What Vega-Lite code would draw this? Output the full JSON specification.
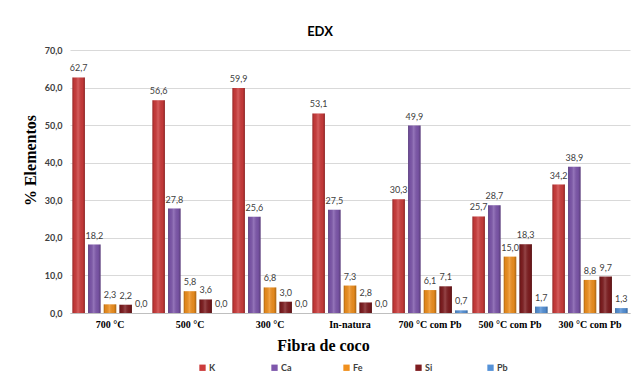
{
  "$schema": "https://vega.github.io/schema/vega-lite/v6.json",
  "width": 560,
  "height": 263,
  "autosize": {"type": "none"},
  "padding": {"left": 70, "top": 50, "right": 1, "bottom": 70},
  "background": "white",
  "title": {
    "text": "EDX",
    "font": "Lato",
    "fontSize": 13,
    "fontWeight": "bold",
    "color": "#000000",
    "anchor": "middle",
    "dx": -30,
    "offset": 7
  },
  "config": {
    "locale": {
      "number": {"decimal": ",", "thousands": ".", "grouping": [3], "currency": ["R$", ""]}
    },
    "view": {"stroke": null}
  },
  "data": {
    "values": [
      {"amostra": "700 °C", "elemento": "K", "pct": 62.7},
      {"amostra": "700 °C", "elemento": "Ca", "pct": 18.2},
      {"amostra": "700 °C", "elemento": "Fe", "pct": 2.3},
      {"amostra": "700 °C", "elemento": "Si", "pct": 2.2},
      {"amostra": "700 °C", "elemento": "Pb", "pct": 0.0},
      {"amostra": "500 °C", "elemento": "K", "pct": 56.6},
      {"amostra": "500 °C", "elemento": "Ca", "pct": 27.8},
      {"amostra": "500 °C", "elemento": "Fe", "pct": 5.8},
      {"amostra": "500 °C", "elemento": "Si", "pct": 3.6},
      {"amostra": "500 °C", "elemento": "Pb", "pct": 0.0},
      {"amostra": "300 °C", "elemento": "K", "pct": 59.9},
      {"amostra": "300 °C", "elemento": "Ca", "pct": 25.6},
      {"amostra": "300 °C", "elemento": "Fe", "pct": 6.8},
      {"amostra": "300 °C", "elemento": "Si", "pct": 3.0},
      {"amostra": "300 °C", "elemento": "Pb", "pct": 0.0},
      {"amostra": "In-natura", "elemento": "K", "pct": 53.1},
      {"amostra": "In-natura", "elemento": "Ca", "pct": 27.5},
      {"amostra": "In-natura", "elemento": "Fe", "pct": 7.3},
      {"amostra": "In-natura", "elemento": "Si", "pct": 2.8},
      {"amostra": "In-natura", "elemento": "Pb", "pct": 0.0},
      {"amostra": "700 °C com Pb", "elemento": "K", "pct": 30.3},
      {"amostra": "700 °C com Pb", "elemento": "Ca", "pct": 49.9},
      {"amostra": "700 °C com Pb", "elemento": "Fe", "pct": 6.1},
      {"amostra": "700 °C com Pb", "elemento": "Si", "pct": 7.1},
      {"amostra": "700 °C com Pb", "elemento": "Pb", "pct": 0.7},
      {"amostra": "500 °C com Pb", "elemento": "K", "pct": 25.7},
      {"amostra": "500 °C com Pb", "elemento": "Ca", "pct": 28.7},
      {"amostra": "500 °C com Pb", "elemento": "Fe", "pct": 15.0},
      {"amostra": "500 °C com Pb", "elemento": "Si", "pct": 18.3},
      {"amostra": "500 °C com Pb", "elemento": "Pb", "pct": 1.7},
      {"amostra": "300 °C com Pb", "elemento": "K", "pct": 34.2},
      {"amostra": "300 °C com Pb", "elemento": "Ca", "pct": 38.9},
      {"amostra": "300 °C com Pb", "elemento": "Fe", "pct": 8.8},
      {"amostra": "300 °C com Pb", "elemento": "Si", "pct": 9.7},
      {"amostra": "300 °C com Pb", "elemento": "Pb", "pct": 1.3}
    ]
  },
  "encoding": {
    "x": {
      "field": "amostra",
      "type": "nominal",
      "sort": ["700 °C", "500 °C", "300 °C", "In-natura", "700 °C com Pb", "500 °C com Pb", "300 °C com Pb"],
      "scale": {"paddingInner": 0.06, "paddingOuter": 0.03},
      "title": "Fibra de coco",
      "axis": {
        "labelAngle": 0,
        "labelFont": "Liberation Serif",
        "labelFontWeight": "bold",
        "labelFontSize": 10,
        "labelColor": "#000000",
        "labelPadding": 6,
        "ticks": false,
        "domainColor": "#BFBFBF",
        "titleFont": "Liberation Serif",
        "titleFontWeight": "bold",
        "titleFontSize": 16,
        "titleColor": "#000000",
        "titleX": 253,
        "titlePadding": 8
      }
    },
    "xOffset": {
      "field": "elemento",
      "type": "nominal",
      "sort": ["K", "Ca", "Fe", "Si", "Pb"],
      "scale": {"paddingInner": 0.2, "paddingOuter": 0}
    },
    "y": {
      "field": "pct",
      "type": "quantitative",
      "scale": {"domain": [0, 70]},
      "title": "% Elementos",
      "axis": {
        "values": [0, 10, 20, 30, 40, 50, 60, 70],
        "format": ".1f",
        "domain": false,
        "ticks": false,
        "gridColor": "#D9D9D9",
        "labelFont": "Lato",
        "labelFontWeight": "bold",
        "labelFontSize": 9,
        "labelColor": "#404040",
        "labelPadding": 8,
        "titleFont": "Liberation Serif",
        "titleFontWeight": "bold",
        "titleFontSize": 16,
        "titleColor": "#000000",
        "titleX": -40,
        "titleY": 110,
        "titleBaseline": "middle"
      }
    }
  },
  "layer": [
    {
      "mark": {"type": "bar"},
      "encoding": {
        "color": {
          "field": "elemento",
          "type": "nominal",
          "sort": ["K", "Ca", "Fe", "Si", "Pb"],
          "scale": {
            "domain": ["K", "Ca", "Fe", "Si", "Pb"],
            "range": ["#CC3B3B", "#7E57AC", "#F0901E", "#7F1D20", "#5592D8"]
          },
          "legend": {
            "title": null,
            "orient": "none",
            "legendX": 128,
            "legendY": 313,
            "direction": "horizontal",
            "columns": 5,
            "gridAlign": "all",
            "columnPadding": 50,
            "padding": 0,
            "symbolType": "square",
            "symbolSize": 40,
            "symbolStrokeWidth": 0,
            "labelFont": "Lato",
            "labelFontWeight": "bold",
            "labelFontSize": 9,
            "labelColor": "#404040",
            "labelOffset": 2
          }
        }
      }
    },
    {
      "mark": {
        "type": "bar",
        "fill": {
          "gradient": "linear",
          "x1": 0, "y1": 0, "x2": 1, "y2": 0,
          "stops": [
            {"offset": 0, "color": "rgba(0,0,0,0.28)"},
            {"offset": 0.15, "color": "rgba(0,0,0,0.05)"},
            {"offset": 0.45, "color": "rgba(255,255,255,0.18)"},
            {"offset": 0.8, "color": "rgba(0,0,0,0.05)"},
            {"offset": 1, "color": "rgba(0,0,0,0.3)"}
          ]
        }
      }
    },
    {
      "mark": {
        "type": "text",
        "baseline": "bottom",
        "dy": -4,
        "font": "Lato",
        "fontSize": 9,
        "color": "#404040"
      },
      "encoding": {
        "text": {"field": "pct", "type": "quantitative", "format": ".1f"}
      }
    }
  ]
}
